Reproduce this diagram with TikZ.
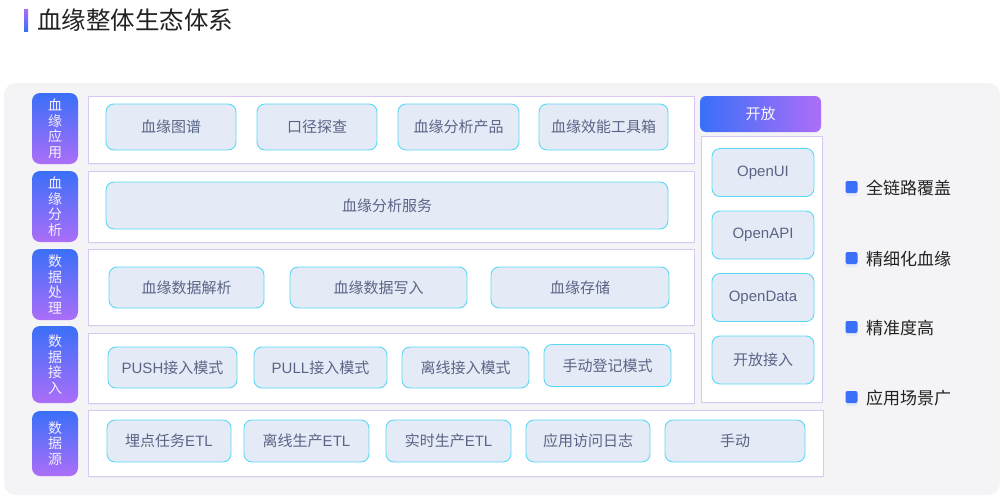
\documentclass[tikz,border=0pt]{standalone}
\usepackage{fontspec}
\setmainfont{Noto Sans CJK SC}
\newfontfamily\latinfont{Liberation Sans}
\usepackage{xcolor}
\definecolor{bggray}{HTML}{F4F4F6}
\definecolor{labblue}{HTML}{3A6FF8}
\definecolor{labpurple}{HTML}{AC6EF8}
\definecolor{panelline}{HTML}{D9C8F3}
\definecolor{itemfill}{HTML}{E5EBF6}
\definecolor{itemline}{HTML}{58D8F7}
\definecolor{itemtext}{HTML}{5A6486}
\definecolor{titletext}{HTML}{222222}
\usepackage{tikz}
\usetikzlibrary{shadows}
\tikzset{
  layerlabel/.style={
    rectangle, rounded corners=8pt, top color=labblue, bottom color=labpurple,
    minimum width=46pt, inner sep=0pt, outer sep=0pt,
    text=white!88!labpurple, align=center, font=\fontsize{14}{15.5}\selectfont
  },
  panel/.style={
    rectangle, draw=panelline, line width=1pt, fill=white,
    inner sep=0pt, outer sep=0pt,
    drop shadow={shadow xshift=0pt, shadow yshift=-2pt, opacity=0.06}
  },
  item/.style={
    rectangle, rounded corners=8pt, draw=itemline, line width=0.9pt, fill=itemfill,
    inner sep=0pt, outer sep=0pt,
    text=itemtext, font=\fontsize{15}{18}\selectfont
  },
  openhead/.style={
    rectangle, rounded corners=6pt, left color=labblue, right color=labpurple,
    inner sep=0pt, text=white!92!labpurple, font=\fontsize{15}{18}\selectfont
  },
  bulletsq/.style={
    rectangle, rounded corners=2pt, fill=labblue, minimum size=12pt, inner sep=0pt,
    drop shadow={shadow xshift=0pt, shadow yshift=-3pt, opacity=0.08, fill=labblue}
  },
  bullettext/.style={anchor=west, inner sep=0pt, text=titletext, font=\fontsize{17}{20}\selectfont},
}
\newcommand{\lat}[1]{{\latinfont #1}}

\begin{document}
\begin{tikzpicture}[x=1pt, y=-1pt]
  \useasboundingbox (0,0) rectangle (1006,501);
  \fill[white] (0,0) rectangle (1006,501);

  % title
  \shade[top color=labpurple, bottom color=labblue] (24,9) rectangle (28,31);
  \node (title) [anchor=west, inner sep=0pt, text=titletext, font=\fontsize{24.5}{27}\selectfont] at (37,20) {血缘整体生态体系};

  % background
  \fill[bggray, rounded corners=12pt] (4,83) rectangle (1000,495);

  % layer labels
  \node (lab1) [layerlabel, minimum height=71pt] at (55,128.5) {血\\缘\\应\\用};
  \node (lab2) [layerlabel, minimum height=71pt] at (55,206.5) {血\\缘\\分\\析};
  \node (lab3) [layerlabel, minimum height=71pt] at (55,284.5) {数\\据\\处\\理};
  \node (lab4) [layerlabel, minimum height=77pt] at (55,364.5) {数\\据\\接\\入};
  \node (lab5) [layerlabel, minimum height=65pt] at (55,443.5) {数\\据\\源};

  % panels
  \node (pan1) [panel, minimum width=606pt, minimum height=67pt] at (391,129.5) {};
  \node (pan2) [panel, minimum width=606pt, minimum height=71pt] at (391,206.5) {};
  \node (pan3) [panel, minimum width=606pt, minimum height=76pt] at (391,287) {};
  \node (pan4) [panel, minimum width=606pt, minimum height=70pt] at (391,368) {};
  \node (pan5) [panel, minimum width=735pt, minimum height=66pt] at (455.5,443) {};
  \node (panopen) [panel, minimum width=121pt, minimum height=266pt] at (761.5,269) {};
  \node (openhd) [openhead, minimum width=121pt, minimum height=36pt] at (760.5,114) {开放};

  % 血缘应用
  \node (tupu)   [item, minimum width=130pt, minimum height=46pt] at (171,127)   {血缘图谱};
  \node (koujing)[item, minimum width=120pt, minimum height=46pt] at (317,127)   {口径探查};
  \node (chanpin)[item, minimum width=121pt, minimum height=46pt] at (458.5,127) {血缘分析产品};
  \node (gongju) [item, minimum width=129pt, minimum height=46pt] at (603.5,127) {血缘效能工具箱};

  % 血缘分析
  \node (fuwu) [item, minimum width=562pt, minimum height=47pt] at (387,205.5) {血缘分析服务};

  % 数据处理
  \node (jiexi)  [item, minimum width=155pt, minimum height=41pt] at (186.5,287.5) {血缘数据解析};
  \node (xieru)  [item, minimum width=177pt, minimum height=41pt] at (378.5,287.5) {血缘数据写入};
  \node (cunchu) [item, minimum width=178pt, minimum height=41pt] at (580,287.5)   {血缘存储};

  % 数据接入
  \node (push)   [item, minimum width=129pt, minimum height=41pt] at (172.5,367.5) {\lat{PUSH}接入模式};
  \node (pull)   [item, minimum width=133pt, minimum height=41pt] at (320.5,367.5) {\lat{PULL}接入模式};
  \node (lixian) [item, minimum width=127pt, minimum height=41pt] at (465.5,367.5) {离线接入模式};
  \node (dengji) [item, minimum width=127pt, minimum height=42pt] at (607.5,365.5) {手动登记模式};

  % 数据源
  \node (maidian) [item, minimum width=124pt, minimum height=42pt] at (169,441)   {埋点任务\lat{ETL}};
  \node (lxetl)   [item, minimum width=125pt, minimum height=42pt] at (306.5,441) {离线生产\lat{ETL}};
  \node (ssetl)   [item, minimum width=125pt, minimum height=42pt] at (448.5,441) {实时生产\lat{ETL}};
  \node (rizhi)   [item, minimum width=124pt, minimum height=42pt] at (588,441)   {应用访问日志};
  \node (shoudong)[item, minimum width=140pt, minimum height=42pt] at (735,441)   {手动};

  % 开放
  \node (openui)   [item, minimum width=102pt, minimum height=48pt] at (763,172.5) {\lat{OpenUI}};
  \node (openapi)  [item, minimum width=102pt, minimum height=48pt] at (763,235)   {\lat{OpenAPI}};
  \node (opendata) [item, minimum width=102pt, minimum height=48pt] at (763,297.5) {\lat{OpenData}};
  \node (openjr)   [item, minimum width=102pt, minimum height=48pt] at (763,360)   {开放接入};

  % features
  \node (b1) [bulletsq] at (851.5,187) {};
  \node (b2) [bulletsq] at (851.5,258) {};
  \node (b3) [bulletsq] at (851.5,327) {};
  \node (b4) [bulletsq] at (851.5,397) {};
  \node (t1) [bullettext] at (866,188) {全链路覆盖};
  \node (t2) [bullettext] at (866,259) {精细化血缘};
  \node (t3) [bullettext] at (866,328) {精准度高};
  \node (t4) [bullettext] at (866,398) {应用场景广};
\end{tikzpicture}
\end{document}
